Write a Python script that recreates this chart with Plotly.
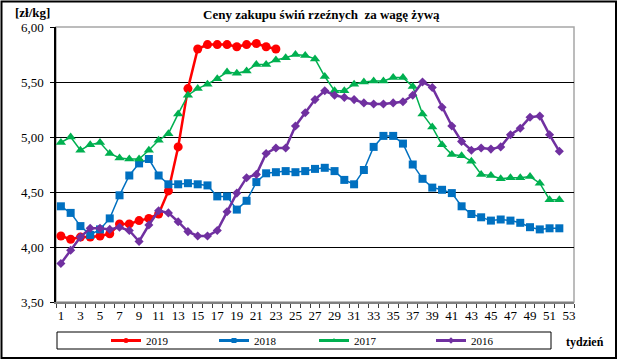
import plotly.graph_objects as go

weeks = list(range(1, 53))

y2019 = [4.10, 4.07, 4.09, 4.09, 4.10, 4.12, 4.21, 4.21, 4.24, 4.26, 4.30, 4.51, 4.91,
         5.44, 5.80, 5.84, 5.84, 5.84, 5.82, 5.84, 5.85, 5.82, 5.80]
y2018 = [4.37, 4.31, 4.19, 4.11, 4.16, 4.26, 4.47, 4.65, 4.76, 4.80, 4.65, 4.57, 4.57,
         4.58, 4.57, 4.56, 4.46, 4.46, 4.34, 4.42, 4.59, 4.67, 4.68, 4.69, 4.68, 4.69,
         4.71, 4.72, 4.69, 4.61, 4.57, 4.70, 4.91, 5.01, 5.01, 4.94, 4.75, 4.62, 4.54,
         4.52, 4.49, 4.37, 4.30, 4.27, 4.24, 4.25, 4.24, 4.22, 4.18, 4.16, 4.17, 4.17]
y2017 = [4.95, 5.00, 4.88, 4.93, 4.95, 4.85, 4.81, 4.80, 4.80, 4.88, 4.97, 5.03, 5.21,
         5.38, 5.44, 5.48, 5.53, 5.59, 5.58, 5.60, 5.66, 5.66, 5.70, 5.72, 5.75, 5.74,
         5.71, 5.55, 5.42, 5.42, 5.48, 5.50, 5.51, 5.51, 5.54, 5.54, 5.46, 5.21, 5.09,
         4.93, 4.84, 4.83, 4.78, 4.66, 4.65, 4.62, 4.63, 4.63, 4.64, 4.58, 4.43, 4.43]
y2016 = [3.85, 3.97, 4.09, 4.17, 4.17, 4.16, 4.18, 4.15, 4.05, 4.20, 4.33, 4.31, 4.23,
         4.14, 4.10, 4.10, 4.15, 4.32, 4.49, 4.63, 4.66, 4.85, 4.90, 4.90, 5.10, 5.22,
         5.34, 5.42, 5.38, 5.36, 5.34, 5.31, 5.30, 5.30, 5.31, 5.32, 5.38, 5.50, 5.45,
         5.27, 5.10, 4.96, 4.88, 4.90, 4.89, 4.91, 5.02, 5.08, 5.18, 5.19, 5.02, 4.87]

x_ticks = list(range(1, 54, 2))
y_ticks = [3.5, 4.0, 4.5, 5.0, 5.5, 6.0]

SERIF = "Liberation Serif"

W, H = 618, 363
L, R, T, B = 56, 574, 27, 302
pw, ph = R - L, B - T


def px(x):
    return (x - L) / pw


def py(y):
    return (B - y) / ph


fig = go.Figure()
series = [
    ("2019", y2019, "#FF0000", "circle", 9, 2.5),
    ("2018", y2018, "#0070C0", "square", 8, 1.5),
    ("2017", y2017, "#00B050", "triangle-up", 9, 1.5),
    ("2016", y2016, "#7030A0", "diamond", 7, 2.5),
]
legend_ids = ["legend", "legend2", "legend3", "legend4"]
legend_text_x = [147, 255, 355, 472]

for name, ys, col, sym, msize, lw in series:
    fig.add_trace(go.Scatter(
        x=weeks[:len(ys)], y=ys, name=name, mode="lines+markers",
        line=dict(color=col, width=lw),
        marker=dict(color=col, symbol=sym, size=msize),
        showlegend=False,
    ))
# legend-only entries with small markers, one legend each for exact placement
for (name, ys, col, sym, msize, lw), lid in zip(series, legend_ids):
    fig.add_trace(go.Scatter(
        x=[None], y=[None], name=name, mode="lines+markers",
        line=dict(color=col, width=3), marker=dict(color=col, symbol=sym, size=5),
        showlegend=True, legend=lid,
    ))

legend_layout = {}
for lid, tx in zip(legend_ids, legend_text_x):
    legend_layout[lid] = dict(
        orientation="h", x=px(tx - 41), xanchor="left", y=py(340.5), yanchor="middle",
        font=dict(family=SERIF, size=11), bgcolor="rgba(0,0,0,0)",
    )

fig.update_layout(
    width=W, height=H,
    margin=dict(l=L, r=W - R, t=T, b=H - B, autoexpand=False),
    paper_bgcolor="white", plot_bgcolor="white",
    separators=", ",
    font=dict(family=SERIF, size=13, color="black"),
    showlegend=True,
    xaxis=dict(
        range=[0.5, 53.5], tickmode="array", tickvals=x_ticks, automargin=False,
        ticktext=[str(v) for v in x_ticks], ticks="", showgrid=False, zeroline=False,
        showline=True, linecolor="#808080", linewidth=2,
        tickfont=dict(family=SERIF, size=13),
        minor=dict(tickmode="linear", tick0=0.5, dtick=1, ticks="outside",
                   ticklen=4, tickcolor="#404040", tickwidth=1, showgrid=False),
    ),
    yaxis=dict(
        range=[3.5, 6.0], tickmode="array", tickvals=y_ticks, tickformat=".2f",
        ticks="outside", ticklen=4, tickcolor="black", automargin=False,
        showgrid=True, gridcolor="black", gridwidth=1, zeroline=False,
        showline=True, linecolor="black", linewidth=1.5,
        tickfont=dict(family=SERIF, size=13), ticklabelstandoff=4,
    ),
    shapes=[
        dict(type="rect", xref="paper", yref="paper", x0=0, x1=1, y0=0, y1=1,
             line=dict(color="#A6A6A6", width=1.5), layer="below"),
        dict(type="rect", xref="paper", yref="paper", x0=px(57), x1=px(551),
             y0=py(349), y1=py(332), line=dict(color="black", width=1)),
        dict(type="rect", xref="paper", yref="paper", x0=px(1.5), x1=px(616),
             y0=py(358), y1=py(1.5), line=dict(color="black", width=2)),
    ],
    annotations=[
        dict(text="<b>Ceny zakupu świń rzeźnych  za wagę żywą</b>", xref="paper",
             yref="paper", x=px(321.5), y=py(15), xanchor="center", yanchor="middle",
             showarrow=False, font=dict(family=SERIF, size=13)),
        dict(text="<b>[zł/kg]</b>", xref="paper", yref="paper", x=px(13), y=py(13),
             xanchor="left", yanchor="middle", showarrow=False,
             font=dict(family=SERIF, size=13)),
        dict(text="<b>tydzień</b>", xref="paper", yref="paper", x=px(606), y=py(342),
             xanchor="right", yanchor="middle", showarrow=False,
             font=dict(family=SERIF, size=12)),
    ],
    **legend_layout,
)

fig.write_html(
    "out.html",
    config={"displayModeBar": False},
    post_script="document.body.style.margin='0';document.body.style.overflow='hidden';",
)
